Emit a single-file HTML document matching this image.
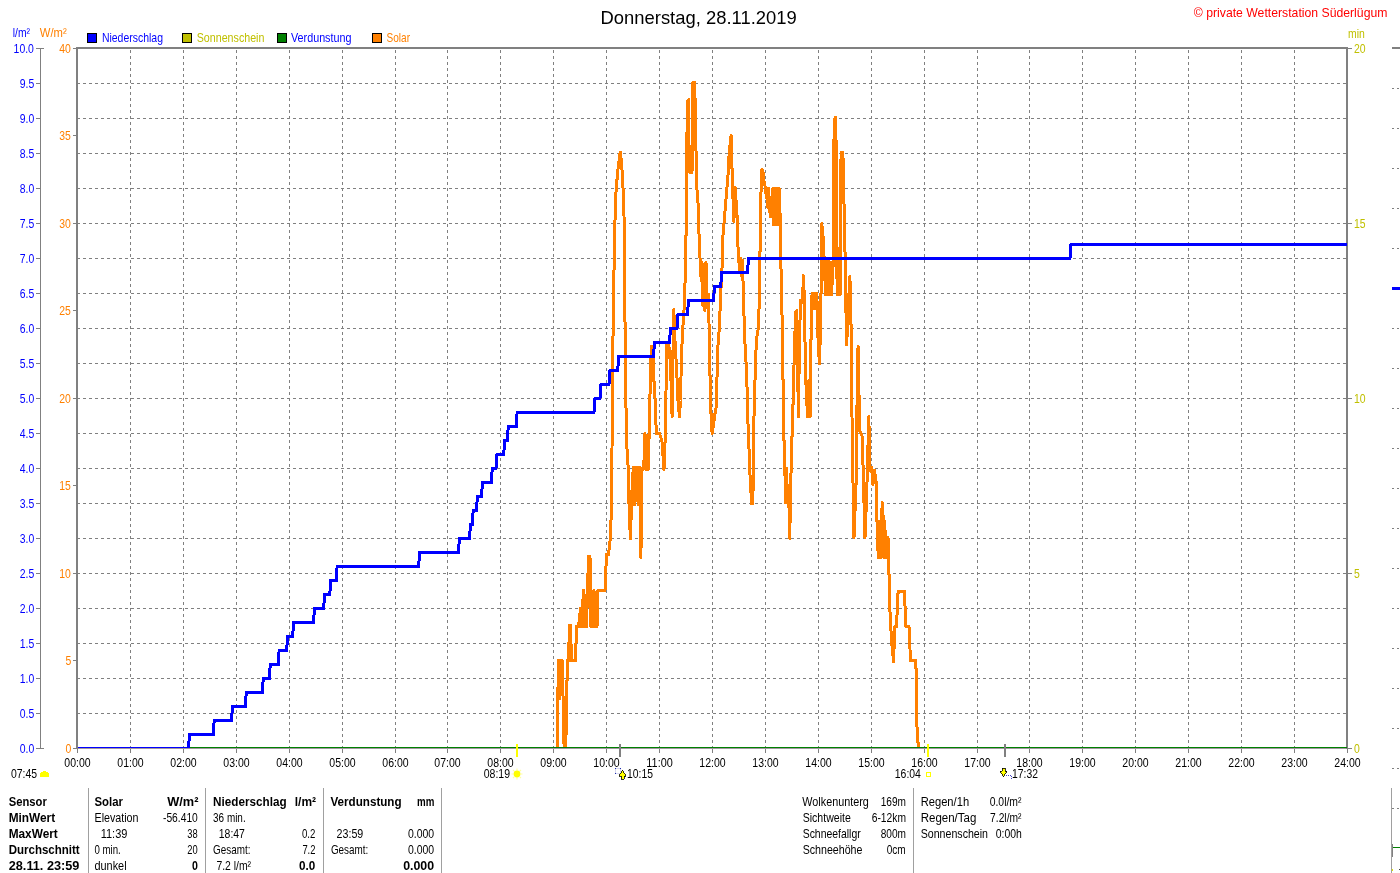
<!DOCTYPE html>
<html><head><meta charset="utf-8"><style>
html,body{margin:0;padding:0;background:#fff;}
svg{display:block;will-change:transform;}
text{font-family:"Liberation Sans",sans-serif;}
</style></head><body>
<svg width="1400" height="873" viewBox="0 0 1400 873" shape-rendering="crispEdges">
<defs><clipPath id="plot"><rect x="77" y="49" width="1270" height="699"/></clipPath></defs>
<rect width="1400" height="873" fill="#fff"/>
<line x1="77" y1="83.5" x2="1346" y2="83.5" stroke="#808080" stroke-width="1" stroke-dasharray="3 3" />
<line x1="77" y1="118.5" x2="1346" y2="118.5" stroke="#808080" stroke-width="1" stroke-dasharray="3 3" />
<line x1="77" y1="153.5" x2="1346" y2="153.5" stroke="#808080" stroke-width="1" stroke-dasharray="3 3" />
<line x1="77" y1="188.5" x2="1346" y2="188.5" stroke="#808080" stroke-width="1" stroke-dasharray="3 3" />
<line x1="77" y1="223.5" x2="1346" y2="223.5" stroke="#808080" stroke-width="1" stroke-dasharray="3 3" />
<line x1="77" y1="258.5" x2="1346" y2="258.5" stroke="#808080" stroke-width="1" stroke-dasharray="3 3" />
<line x1="77" y1="293.5" x2="1346" y2="293.5" stroke="#808080" stroke-width="1" stroke-dasharray="3 3" />
<line x1="77" y1="328.5" x2="1346" y2="328.5" stroke="#808080" stroke-width="1" stroke-dasharray="3 3" />
<line x1="77" y1="363.5" x2="1346" y2="363.5" stroke="#808080" stroke-width="1" stroke-dasharray="3 3" />
<line x1="77" y1="398.5" x2="1346" y2="398.5" stroke="#808080" stroke-width="1" stroke-dasharray="3 3" />
<line x1="77" y1="433.5" x2="1346" y2="433.5" stroke="#808080" stroke-width="1" stroke-dasharray="3 3" />
<line x1="77" y1="468.5" x2="1346" y2="468.5" stroke="#808080" stroke-width="1" stroke-dasharray="3 3" />
<line x1="77" y1="503.5" x2="1346" y2="503.5" stroke="#808080" stroke-width="1" stroke-dasharray="3 3" />
<line x1="77" y1="538.5" x2="1346" y2="538.5" stroke="#808080" stroke-width="1" stroke-dasharray="3 3" />
<line x1="77" y1="573.5" x2="1346" y2="573.5" stroke="#808080" stroke-width="1" stroke-dasharray="3 3" />
<line x1="77" y1="608.5" x2="1346" y2="608.5" stroke="#808080" stroke-width="1" stroke-dasharray="3 3" />
<line x1="77" y1="643.5" x2="1346" y2="643.5" stroke="#808080" stroke-width="1" stroke-dasharray="3 3" />
<line x1="77" y1="678.5" x2="1346" y2="678.5" stroke="#808080" stroke-width="1" stroke-dasharray="3 3" />
<line x1="77" y1="713.5" x2="1346" y2="713.5" stroke="#808080" stroke-width="1" stroke-dasharray="3 3" />
<line x1="130.5" y1="50" x2="130.5" y2="748" stroke="#808080" stroke-width="1" stroke-dasharray="3 3" />
<line x1="183.5" y1="50" x2="183.5" y2="748" stroke="#808080" stroke-width="1" stroke-dasharray="3 3" />
<line x1="236.5" y1="50" x2="236.5" y2="748" stroke="#808080" stroke-width="1" stroke-dasharray="3 3" />
<line x1="289.5" y1="50" x2="289.5" y2="748" stroke="#808080" stroke-width="1" stroke-dasharray="3 3" />
<line x1="342.5" y1="50" x2="342.5" y2="748" stroke="#808080" stroke-width="1" stroke-dasharray="3 3" />
<line x1="395.5" y1="50" x2="395.5" y2="748" stroke="#808080" stroke-width="1" stroke-dasharray="3 3" />
<line x1="447.5" y1="50" x2="447.5" y2="748" stroke="#808080" stroke-width="1" stroke-dasharray="3 3" />
<line x1="500.5" y1="50" x2="500.5" y2="748" stroke="#808080" stroke-width="1" stroke-dasharray="3 3" />
<line x1="553.5" y1="50" x2="553.5" y2="748" stroke="#808080" stroke-width="1" stroke-dasharray="3 3" />
<line x1="606.5" y1="50" x2="606.5" y2="748" stroke="#808080" stroke-width="1" stroke-dasharray="3 3" />
<line x1="659.5" y1="50" x2="659.5" y2="748" stroke="#808080" stroke-width="1" stroke-dasharray="3 3" />
<line x1="712.5" y1="50" x2="712.5" y2="748" stroke="#808080" stroke-width="1" stroke-dasharray="3 3" />
<line x1="765.5" y1="50" x2="765.5" y2="748" stroke="#808080" stroke-width="1" stroke-dasharray="3 3" />
<line x1="818.5" y1="50" x2="818.5" y2="748" stroke="#808080" stroke-width="1" stroke-dasharray="3 3" />
<line x1="871.5" y1="50" x2="871.5" y2="748" stroke="#808080" stroke-width="1" stroke-dasharray="3 3" />
<line x1="924.5" y1="50" x2="924.5" y2="748" stroke="#808080" stroke-width="1" stroke-dasharray="3 3" />
<line x1="977.5" y1="50" x2="977.5" y2="748" stroke="#808080" stroke-width="1" stroke-dasharray="3 3" />
<line x1="1029.5" y1="50" x2="1029.5" y2="748" stroke="#808080" stroke-width="1" stroke-dasharray="3 3" />
<line x1="1082.5" y1="50" x2="1082.5" y2="748" stroke="#808080" stroke-width="1" stroke-dasharray="3 3" />
<line x1="1135.5" y1="50" x2="1135.5" y2="748" stroke="#808080" stroke-width="1" stroke-dasharray="3 3" />
<line x1="1188.5" y1="50" x2="1188.5" y2="748" stroke="#808080" stroke-width="1" stroke-dasharray="3 3" />
<line x1="1241.5" y1="50" x2="1241.5" y2="748" stroke="#808080" stroke-width="1" stroke-dasharray="3 3" />
<line x1="1294.5" y1="50" x2="1294.5" y2="748" stroke="#808080" stroke-width="1" stroke-dasharray="3 3" />
<rect x="76" y="47" width="1272" height="2" fill="#808080"/>
<rect x="76" y="47" width="2" height="702" fill="#808080"/>
<rect x="1346" y="47" width="2" height="702" fill="#808080"/>
<g clip-path="url(#plot)">
<path d="M77.50,748.50 L557.10,748.50 L557.70,705.50 L558.50,660.50 L559.10,660.50 L559.90,698.50 L560.70,660.50 L561.50,690.50 L562.30,660.50 L563.10,700.50 L564.10,748.50 L565.10,748.50 L566.30,731.50 L567.30,660.50 L568.50,660.50 L569.50,625.50 L570.50,625.50 L571.50,660.50 L575.50,660.50 L576.50,626.50 L578.50,626.50 L580.50,608.50 L581.50,626.50 L582.50,608.50 L583.50,590.50 L584.50,626.50 L585.50,595.50 L586.50,626.50 L588.50,556.50 L590.00,556.50 L591.00,626.50 L592.00,595.50 L593.00,626.50 L594.00,590.50 L595.00,626.50 L596.00,595.50 L597.00,626.50 L598.00,590.50 L605.00,590.50 L606.50,554.50 L608.50,554.50 L610.10,540.50 L611.30,513.50 L612.00,450.50 L612.50,361.50 L613.00,337.50 L613.70,286.50 L614.90,223.50 L616.10,189.50 L617.80,171.10 L619.80,154.10 L620.50,152.50 L621.70,165.50 L622.70,179.50 L624.00,215.50 L624.70,290.50 L625.50,370.50 L626.50,442.50 L627.90,460.50 L628.50,485.50 L629.50,521.50 L630.50,538.50 L631.50,503.50 L632.50,477.50 L633.50,467.50 L634.50,504.50 L635.50,467.50 L636.50,500.50 L637.50,467.50 L638.50,504.50 L639.50,467.50 L640.90,557.50 L642.00,470.50 L643.00,467.50 L644.00,460.50 L645.00,433.50 L646.00,469.50 L647.00,435.50 L648.10,469.50 L649.00,440.50 L649.90,400.50 L650.70,360.50 L651.50,346.50 L652.50,350.50 L653.50,357.50 L653.90,379.50 L655.10,399.50 L656.30,433.50 L657.50,433.50 L659.50,433.50 L661.90,440.50 L663.00,455.50 L664.00,469.50 L665.30,435.50 L666.00,391.50 L667.00,344.50 L668.50,345.50 L669.50,348.50 L671.00,380.50 L672.10,416.50 L673.00,350.50 L673.80,309.50 L675.00,340.50 L676.90,375.50 L678.00,400.50 L679.40,416.50 L680.50,400.50 L681.50,354.50 L682.80,328.50 L684.00,310.50 L684.90,290.50 L685.40,260.50 L685.90,250.50 L686.60,162.50 L687.10,126.50 L687.80,100.50 L688.70,99.50 L688.90,140.50 L689.70,172.50 L692.00,172.50 L692.50,91.50 L693.00,82.50 L694.50,82.50 L695.40,110.50 L696.00,150.50 L696.80,187.50 L698.30,206.50 L699.30,245.50 L700.00,257.50 L701.20,280.50 L702.00,262.50 L703.00,305.50 L704.00,270.50 L705.00,310.50 L706.00,262.50 L707.00,300.50 L708.50,294.50 L709.70,362.50 L710.90,411.50 L712.10,433.50 L713.50,425.50 L714.50,416.50 L716.30,406.50 L717.70,348.50 L719.50,326.50 L720.60,294.50 L721.80,275.50 L722.90,236.50 L724.90,212.50 L726.50,192.50 L727.80,178.50 L729.00,156.50 L730.70,136.50 L731.40,135.50 L732.20,178.50 L733.90,221.50 L735.10,187.50 L737.00,214.50 L738.00,246.50 L739.50,270.50 L740.50,258.50 L741.50,275.50 L742.50,260.50 L743.50,300.50 L744.80,340.50 L746.70,373.50 L747.70,416.50 L749.20,453.50 L750.10,477.50 L751.60,503.50 L752.50,503.50 L753.30,484.50 L754.00,416.50 L755.20,373.50 L756.40,339.50 L758.10,329.50 L759.40,300.50 L760.10,245.50 L761.30,175.50 L762.00,169.50 L763.00,172.50 L764.10,181.50 L765.50,188.50 L766.30,197.50 L767.10,188.50 L767.90,207.50 L768.70,188.50 L769.50,207.50 L770.30,216.50 L771.10,205.50 L771.80,216.50 L772.70,188.50 L773.50,224.50 L774.30,188.50 L775.10,224.50 L775.90,188.50 L776.70,224.50 L777.50,188.50 L778.30,224.50 L779.10,188.50 L779.80,205.50 L780.50,232.50 L781.20,282.50 L782.40,330.50 L783.60,426.50 L784.90,470.50 L785.50,502.50 L786.50,468.50 L787.50,500.50 L788.50,485.50 L789.70,538.50 L790.90,477.50 L792.10,433.50 L793.40,392.50 L794.50,344.50 L795.80,311.50 L796.70,310.50 L798.40,416.50 L799.50,340.50 L800.50,300.50 L801.80,302.50 L802.80,295.50 L803.30,275.50 L804.30,295.50 L805.50,373.50 L807.50,416.50 L809.00,380.50 L810.10,416.50 L810.80,360.50 L811.30,311.50 L812.10,293.50 L813.50,293.50 L814.50,308.50 L815.50,293.50 L816.80,293.50 L817.50,320.50 L818.10,340.50 L819.40,363.50 L820.50,330.50 L821.20,280.50 L821.70,223.50 L823.40,240.50 L824.60,270.50 L825.50,294.50 L826.50,260.50 L827.50,294.50 L828.50,258.50 L829.50,294.50 L830.50,262.50 L831.50,294.50 L833.10,265.50 L833.70,188.50 L834.10,127.50 L835.10,117.50 L835.90,117.50 L836.30,200.50 L836.50,250.50 L837.30,294.50 L838.10,248.50 L838.90,294.50 L839.70,248.50 L840.10,294.50 L840.50,200.50 L841.10,152.50 L842.70,152.50 L843.30,162.50 L844.10,209.50 L845.00,251.50 L845.80,300.50 L846.50,344.50 L847.50,330.50 L848.70,300.50 L849.80,276.50 L850.80,300.50 L851.50,380.50 L852.00,416.50 L852.50,467.50 L853.80,506.50 L854.00,537.50 L856.20,480.50 L857.50,360.50 L858.10,346.50 L859.10,400.50 L859.90,431.50 L862.30,436.50 L863.50,484.50 L865.00,537.50 L866.50,500.50 L868.80,416.50 L870.00,470.50 L871.50,467.50 L873.00,484.50 L874.50,470.50 L876.50,484.50 L877.00,521.50 L877.80,548.50 L878.50,557.50 L879.50,521.50 L880.50,557.50 L881.30,520.50 L882.30,502.50 L883.30,520.50 L884.00,557.50 L884.80,521.50 L885.70,557.50 L886.50,537.50 L887.30,557.50 L888.00,537.50 L888.80,556.50 L889.30,598.50 L890.30,617.50 L891.50,640.50 L893.50,661.50 L895.00,626.50 L896.50,626.50 L898.10,591.50 L904.40,591.50 L905.90,626.50 L909.00,626.50 L910.50,660.50 L915.90,660.50 L916.80,723.50 L918.40,748.50 L1346.50,748.50" fill="none" stroke="#ff8000" stroke-width="3" stroke-linejoin="round"/>
<line x1="78" y1="748.5" x2="1347" y2="748.5" stroke="#008000" stroke-width="3"/>
<path d="M77.50,748.50 L188.50,748.50 L189.50,734.50 L213.20,734.50 L214.20,720.50 L231.50,720.50 L232.50,706.50 L245.30,706.50 L246.30,692.50 L262.30,692.50 L263.30,678.50 L269.30,678.50 L270.30,664.50 L278.10,664.50 L279.10,650.50 L286.60,650.50 L287.60,636.50 L292.60,636.50 L293.60,622.50 L313.50,622.50 L314.50,608.50 L323.60,608.50 L324.60,594.50 L329.80,594.50 L330.80,580.50 L336.10,580.50 L337.10,566.50 L418.60,566.50 L419.60,552.50 L458.40,552.50 L459.40,538.50 L469.50,538.50 L470.50,524.50 L472.20,524.50 L473.20,510.50 L476.40,510.50 L477.40,496.50 L481.50,496.50 L482.50,482.50 L491.30,482.50 L492.30,468.50 L496.00,468.50 L497.00,454.50 L503.70,454.50 L504.70,440.50 L507.30,440.50 L508.30,426.50 L516.10,426.50 L517.10,412.50 L594.00,412.50 L595.00,398.50 L600.00,398.50 L601.00,384.50 L609.00,384.50 L610.00,370.50 L617.70,370.50 L618.70,356.50 L653.50,356.50 L654.50,342.50 L669.50,342.50 L670.50,328.50 L677.00,328.50 L678.00,314.50 L687.50,314.50 L688.50,300.50 L713.50,300.50 L714.50,286.50 L720.70,286.50 L721.70,272.50 L747.50,272.50 L748.50,258.50 L1070.00,258.50 L1071.00,244.50 L1347.50,244.50" fill="none" stroke="#0000ff" stroke-width="3" stroke-linejoin="miter"/>
</g>
<line x1="78" y1="748.5" x2="1346" y2="748.5" stroke="#a096a0" stroke-width="1" />
<rect x="1346" y="748" width="2" height="1" fill="#808080"/>
<line x1="40.5" y1="48" x2="40.5" y2="749" stroke="#808080" stroke-width="1" />
<line x1="36" y1="48.5" x2="44" y2="48.5" stroke="#808080" stroke-width="1" />
<text transform="translate(13.62,53) scale(0.8700,1)" font-size="12" font-weight="normal" fill="#0000ff">10.0</text>
<line x1="36" y1="83.5" x2="40" y2="83.5" stroke="#808080" stroke-width="1" />
<text transform="translate(19.71,88) scale(0.8700,1)" font-size="12" font-weight="normal" fill="#0000ff">9.5</text>
<line x1="36" y1="118.5" x2="40" y2="118.5" stroke="#808080" stroke-width="1" />
<text transform="translate(19.71,123) scale(0.8700,1)" font-size="12" font-weight="normal" fill="#0000ff">9.0</text>
<line x1="36" y1="153.5" x2="40" y2="153.5" stroke="#808080" stroke-width="1" />
<text transform="translate(19.71,158) scale(0.8700,1)" font-size="12" font-weight="normal" fill="#0000ff">8.5</text>
<line x1="36" y1="188.5" x2="40" y2="188.5" stroke="#808080" stroke-width="1" />
<text transform="translate(19.71,193) scale(0.8700,1)" font-size="12" font-weight="normal" fill="#0000ff">8.0</text>
<line x1="36" y1="223.5" x2="40" y2="223.5" stroke="#808080" stroke-width="1" />
<text transform="translate(19.71,228) scale(0.8700,1)" font-size="12" font-weight="normal" fill="#0000ff">7.5</text>
<line x1="36" y1="258.5" x2="40" y2="258.5" stroke="#808080" stroke-width="1" />
<text transform="translate(19.71,263) scale(0.8700,1)" font-size="12" font-weight="normal" fill="#0000ff">7.0</text>
<line x1="36" y1="293.5" x2="40" y2="293.5" stroke="#808080" stroke-width="1" />
<text transform="translate(19.71,298) scale(0.8700,1)" font-size="12" font-weight="normal" fill="#0000ff">6.5</text>
<line x1="36" y1="328.5" x2="40" y2="328.5" stroke="#808080" stroke-width="1" />
<text transform="translate(19.71,333) scale(0.8700,1)" font-size="12" font-weight="normal" fill="#0000ff">6.0</text>
<line x1="36" y1="363.5" x2="40" y2="363.5" stroke="#808080" stroke-width="1" />
<text transform="translate(19.71,368) scale(0.8700,1)" font-size="12" font-weight="normal" fill="#0000ff">5.5</text>
<line x1="36" y1="398.5" x2="40" y2="398.5" stroke="#808080" stroke-width="1" />
<text transform="translate(19.71,403) scale(0.8700,1)" font-size="12" font-weight="normal" fill="#0000ff">5.0</text>
<line x1="36" y1="433.5" x2="40" y2="433.5" stroke="#808080" stroke-width="1" />
<text transform="translate(19.71,438) scale(0.8700,1)" font-size="12" font-weight="normal" fill="#0000ff">4.5</text>
<line x1="36" y1="468.5" x2="40" y2="468.5" stroke="#808080" stroke-width="1" />
<text transform="translate(19.71,473) scale(0.8700,1)" font-size="12" font-weight="normal" fill="#0000ff">4.0</text>
<line x1="36" y1="503.5" x2="40" y2="503.5" stroke="#808080" stroke-width="1" />
<text transform="translate(19.71,508) scale(0.8700,1)" font-size="12" font-weight="normal" fill="#0000ff">3.5</text>
<line x1="36" y1="538.5" x2="40" y2="538.5" stroke="#808080" stroke-width="1" />
<text transform="translate(19.71,543) scale(0.8700,1)" font-size="12" font-weight="normal" fill="#0000ff">3.0</text>
<line x1="36" y1="573.5" x2="40" y2="573.5" stroke="#808080" stroke-width="1" />
<text transform="translate(19.71,578) scale(0.8700,1)" font-size="12" font-weight="normal" fill="#0000ff">2.5</text>
<line x1="36" y1="608.5" x2="40" y2="608.5" stroke="#808080" stroke-width="1" />
<text transform="translate(19.71,613) scale(0.8700,1)" font-size="12" font-weight="normal" fill="#0000ff">2.0</text>
<line x1="36" y1="643.5" x2="40" y2="643.5" stroke="#808080" stroke-width="1" />
<text transform="translate(19.71,648) scale(0.8700,1)" font-size="12" font-weight="normal" fill="#0000ff">1.5</text>
<line x1="36" y1="678.5" x2="40" y2="678.5" stroke="#808080" stroke-width="1" />
<text transform="translate(19.71,683) scale(0.8700,1)" font-size="12" font-weight="normal" fill="#0000ff">1.0</text>
<line x1="36" y1="713.5" x2="40" y2="713.5" stroke="#808080" stroke-width="1" />
<text transform="translate(19.71,718) scale(0.8700,1)" font-size="12" font-weight="normal" fill="#0000ff">0.5</text>
<line x1="36" y1="748.5" x2="44" y2="748.5" stroke="#808080" stroke-width="1" />
<text transform="translate(19.71,753) scale(0.8700,1)" font-size="12" font-weight="normal" fill="#0000ff">0.0</text>
<line x1="73" y1="48.5" x2="76" y2="48.5" stroke="#808080" stroke-width="1" />
<text transform="translate(59.32,53) scale(0.8700,1)" font-size="12" font-weight="normal" fill="#ff8000">40</text>
<line x1="73" y1="135.5" x2="76" y2="135.5" stroke="#808080" stroke-width="1" />
<text transform="translate(59.32,140) scale(0.8700,1)" font-size="12" font-weight="normal" fill="#ff8000">35</text>
<line x1="73" y1="223.5" x2="76" y2="223.5" stroke="#808080" stroke-width="1" />
<text transform="translate(59.32,228) scale(0.8700,1)" font-size="12" font-weight="normal" fill="#ff8000">30</text>
<line x1="73" y1="310.5" x2="76" y2="310.5" stroke="#808080" stroke-width="1" />
<text transform="translate(59.32,315) scale(0.8700,1)" font-size="12" font-weight="normal" fill="#ff8000">25</text>
<line x1="73" y1="398.5" x2="76" y2="398.5" stroke="#808080" stroke-width="1" />
<text transform="translate(59.32,403) scale(0.8700,1)" font-size="12" font-weight="normal" fill="#ff8000">20</text>
<line x1="73" y1="485.5" x2="76" y2="485.5" stroke="#808080" stroke-width="1" />
<text transform="translate(59.32,490) scale(0.8700,1)" font-size="12" font-weight="normal" fill="#ff8000">15</text>
<line x1="73" y1="573.5" x2="76" y2="573.5" stroke="#808080" stroke-width="1" />
<text transform="translate(59.32,578) scale(0.8700,1)" font-size="12" font-weight="normal" fill="#ff8000">10</text>
<line x1="73" y1="660.5" x2="76" y2="660.5" stroke="#808080" stroke-width="1" />
<text transform="translate(65.41,665) scale(0.8700,1)" font-size="12" font-weight="normal" fill="#ff8000">5</text>
<line x1="73" y1="748.5" x2="76" y2="748.5" stroke="#808080" stroke-width="1" />
<text transform="translate(65.41,753) scale(0.8700,1)" font-size="12" font-weight="normal" fill="#ff8000">0</text>
<line x1="1348" y1="48.5" x2="1352" y2="48.5" stroke="#808080" stroke-width="1" />
<text transform="translate(1354.00,53) scale(0.8700,1)" font-size="12" font-weight="normal" fill="#c0c000">20</text>
<line x1="1348" y1="223.5" x2="1352" y2="223.5" stroke="#808080" stroke-width="1" />
<text transform="translate(1354.00,228) scale(0.8700,1)" font-size="12" font-weight="normal" fill="#c0c000">15</text>
<line x1="1348" y1="398.5" x2="1352" y2="398.5" stroke="#808080" stroke-width="1" />
<text transform="translate(1354.00,403) scale(0.8700,1)" font-size="12" font-weight="normal" fill="#c0c000">10</text>
<line x1="1348" y1="573.5" x2="1352" y2="573.5" stroke="#808080" stroke-width="1" />
<text transform="translate(1354.00,578) scale(0.8700,1)" font-size="12" font-weight="normal" fill="#c0c000">5</text>
<line x1="1348" y1="748.5" x2="1352" y2="748.5" stroke="#808080" stroke-width="1" />
<text transform="translate(1354.00,753) scale(0.8700,1)" font-size="12" font-weight="normal" fill="#c0c000">0</text>
<text transform="translate(1348.00,38) scale(0.8700,1)" font-size="12" font-weight="normal" fill="#c0c000">min</text>
<text transform="translate(12.75,37) scale(0.8625,1)" font-size="12" font-weight="normal" fill="#0000ff">l/m²</text>
<text transform="translate(39.75,37) scale(0.9397,1)" font-size="12" font-weight="normal" fill="#ff8000">W/m²</text>
<line x1="77.5" y1="749" x2="77.5" y2="753" stroke="#808080" stroke-width="1" />
<text transform="translate(64.35,767) scale(0.8767,1)" font-size="12" font-weight="normal" fill="#000">00:00</text>
<line x1="130.5" y1="749" x2="130.5" y2="753" stroke="#808080" stroke-width="1" />
<text transform="translate(117.35,767) scale(0.8767,1)" font-size="12" font-weight="normal" fill="#000">01:00</text>
<line x1="183.5" y1="749" x2="183.5" y2="753" stroke="#808080" stroke-width="1" />
<text transform="translate(170.35,767) scale(0.8767,1)" font-size="12" font-weight="normal" fill="#000">02:00</text>
<line x1="236.5" y1="749" x2="236.5" y2="753" stroke="#808080" stroke-width="1" />
<text transform="translate(223.35,767) scale(0.8767,1)" font-size="12" font-weight="normal" fill="#000">03:00</text>
<line x1="289.5" y1="749" x2="289.5" y2="753" stroke="#808080" stroke-width="1" />
<text transform="translate(276.35,767) scale(0.8767,1)" font-size="12" font-weight="normal" fill="#000">04:00</text>
<line x1="342.5" y1="749" x2="342.5" y2="753" stroke="#808080" stroke-width="1" />
<text transform="translate(329.35,767) scale(0.8767,1)" font-size="12" font-weight="normal" fill="#000">05:00</text>
<line x1="395.5" y1="749" x2="395.5" y2="753" stroke="#808080" stroke-width="1" />
<text transform="translate(382.35,767) scale(0.8767,1)" font-size="12" font-weight="normal" fill="#000">06:00</text>
<line x1="447.5" y1="749" x2="447.5" y2="753" stroke="#808080" stroke-width="1" />
<text transform="translate(434.35,767) scale(0.8767,1)" font-size="12" font-weight="normal" fill="#000">07:00</text>
<line x1="500.5" y1="749" x2="500.5" y2="753" stroke="#808080" stroke-width="1" />
<text transform="translate(487.35,767) scale(0.8767,1)" font-size="12" font-weight="normal" fill="#000">08:00</text>
<line x1="553.5" y1="749" x2="553.5" y2="753" stroke="#808080" stroke-width="1" />
<text transform="translate(540.35,767) scale(0.8767,1)" font-size="12" font-weight="normal" fill="#000">09:00</text>
<line x1="606.5" y1="749" x2="606.5" y2="753" stroke="#808080" stroke-width="1" />
<text transform="translate(593.35,767) scale(0.8767,1)" font-size="12" font-weight="normal" fill="#000">10:00</text>
<line x1="659.5" y1="749" x2="659.5" y2="753" stroke="#808080" stroke-width="1" />
<text transform="translate(646.35,767) scale(0.9069,1)" font-size="12" font-weight="normal" fill="#000">11:00</text>
<line x1="712.5" y1="749" x2="712.5" y2="753" stroke="#808080" stroke-width="1" />
<text transform="translate(699.35,767) scale(0.8767,1)" font-size="12" font-weight="normal" fill="#000">12:00</text>
<line x1="765.5" y1="749" x2="765.5" y2="753" stroke="#808080" stroke-width="1" />
<text transform="translate(752.35,767) scale(0.8767,1)" font-size="12" font-weight="normal" fill="#000">13:00</text>
<line x1="818.5" y1="749" x2="818.5" y2="753" stroke="#808080" stroke-width="1" />
<text transform="translate(805.35,767) scale(0.8767,1)" font-size="12" font-weight="normal" fill="#000">14:00</text>
<line x1="871.5" y1="749" x2="871.5" y2="753" stroke="#808080" stroke-width="1" />
<text transform="translate(858.35,767) scale(0.8767,1)" font-size="12" font-weight="normal" fill="#000">15:00</text>
<line x1="924.5" y1="749" x2="924.5" y2="753" stroke="#808080" stroke-width="1" />
<text transform="translate(911.35,767) scale(0.8767,1)" font-size="12" font-weight="normal" fill="#000">16:00</text>
<line x1="977.5" y1="749" x2="977.5" y2="753" stroke="#808080" stroke-width="1" />
<text transform="translate(964.35,767) scale(0.8767,1)" font-size="12" font-weight="normal" fill="#000">17:00</text>
<line x1="1029.5" y1="749" x2="1029.5" y2="753" stroke="#808080" stroke-width="1" />
<text transform="translate(1016.35,767) scale(0.8767,1)" font-size="12" font-weight="normal" fill="#000">18:00</text>
<line x1="1082.5" y1="749" x2="1082.5" y2="753" stroke="#808080" stroke-width="1" />
<text transform="translate(1069.35,767) scale(0.8767,1)" font-size="12" font-weight="normal" fill="#000">19:00</text>
<line x1="1135.5" y1="749" x2="1135.5" y2="753" stroke="#808080" stroke-width="1" />
<text transform="translate(1122.35,767) scale(0.8767,1)" font-size="12" font-weight="normal" fill="#000">20:00</text>
<line x1="1188.5" y1="749" x2="1188.5" y2="753" stroke="#808080" stroke-width="1" />
<text transform="translate(1175.35,767) scale(0.8767,1)" font-size="12" font-weight="normal" fill="#000">21:00</text>
<line x1="1241.5" y1="749" x2="1241.5" y2="753" stroke="#808080" stroke-width="1" />
<text transform="translate(1228.35,767) scale(0.8767,1)" font-size="12" font-weight="normal" fill="#000">22:00</text>
<line x1="1294.5" y1="749" x2="1294.5" y2="753" stroke="#808080" stroke-width="1" />
<text transform="translate(1281.35,767) scale(0.8767,1)" font-size="12" font-weight="normal" fill="#000">23:00</text>
<line x1="1347.5" y1="749" x2="1347.5" y2="753" stroke="#808080" stroke-width="1" />
<text transform="translate(1334.35,767) scale(0.8767,1)" font-size="12" font-weight="normal" fill="#000">24:00</text>
<text transform="translate(600.50,24) scale(1.0234,1)" font-size="18" font-weight="normal" fill="#000">Donnerstag, 28.11.2019</text>
<text transform="translate(1193.80,17) scale(1.0195,1)" font-size="12" font-weight="normal" fill="#ff0000">© private Wetterstation Süderlügum</text>
<rect x="87.5" y="33.5" width="9" height="9" fill="#0000ff" stroke="#000" stroke-width="1"/>
<text transform="translate(101.90,42) scale(0.8729,1)" font-size="12" font-weight="normal" fill="#0000ff">Niederschlag</text>
<rect x="182.5" y="33.5" width="9" height="9" fill="#c0c000" stroke="#000" stroke-width="1"/>
<text transform="translate(196.70,42) scale(0.8908,1)" font-size="12" font-weight="normal" fill="#c0c000">Sonnenschein</text>
<rect x="277.5" y="33.5" width="9" height="9" fill="#008000" stroke="#000" stroke-width="1"/>
<text transform="translate(291.00,42) scale(0.8985,1)" font-size="12" font-weight="normal" fill="#0000ff">Verdunstung</text>
<rect x="372.5" y="33.5" width="9" height="9" fill="#ff8000" stroke="#000" stroke-width="1"/>
<text transform="translate(386.50,42) scale(0.8393,1)" font-size="12" font-weight="normal" fill="#ff8000">Solar</text>
<line x1="517" y1="744" x2="517" y2="757" stroke="#ffff00" stroke-width="2" />
<line x1="620" y1="744" x2="620" y2="757" stroke="#808080" stroke-width="2" />
<line x1="928" y1="744" x2="928" y2="757" stroke="#ffff00" stroke-width="2" />
<line x1="1005" y1="744" x2="1005" y2="757" stroke="#808080" stroke-width="2" />
<text transform="translate(10.90,778) scale(0.8700,1)" font-size="12" font-weight="normal" fill="#000">07:45</text>
<text transform="translate(483.70,778) scale(0.8767,1)" font-size="12" font-weight="normal" fill="#000">08:19</text>
<text transform="translate(627.10,778) scale(0.8633,1)" font-size="12" font-weight="normal" fill="#000">10:15</text>
<text transform="translate(894.80,778) scale(0.8700,1)" font-size="12" font-weight="normal" fill="#000">16:04</text>
<text transform="translate(1012.10,778) scale(0.8633,1)" font-size="12" font-weight="normal" fill="#000">17:32</text>
<path d="M43,771 h3 v1 h2 v1 h1 v4 h-9 v-4 h1 v-1 h2 z" fill="#ffff00"/>
<g shape-rendering="auto"><path d="M517,768.5 v2 M517,777.5 v2 M511.5,774 h2 M520.5,774 h2 M513,770 l1.2,1.2 M521,770 l-1.2,1.2 M513,778 l1.2,-1.2 M521,778 l-1.2,-1.2" stroke="#ffffa0" stroke-width="1.2" fill="none"/><circle cx="517" cy="774" r="3.4" fill="#ffff00"/></g>
<path d="M615,768h1v1h-1zM620,768h1v1h-1zM615,773h1v1h-1zM620,773h1v1h-1z" fill="#2030b0"/><path d="M616,768h4v1h-4zM616,773h4v1h-4zM615,769h1v4h-1zM620,769h1v4h-1z" fill="#d8d8f0"/>
<path d="M622.5,770 L626,776 L624,776 L624,779 L621,779 L621,776 L619,776 Z" fill="#ffff00" stroke="#000" stroke-width="0.8"/>
<rect x="926.5" y="772.5" width="4" height="4" fill="none" stroke="#ffff00" stroke-width="1"/>
<path d="M1003.5,777 L1007,771 L1005,771 L1005,768 L1002,768 L1002,771 L1000,771 Z" fill="#ffff00" stroke="#000" stroke-width="0.8"/>
<path d="M1005.5,775.5 h6 M1011.5,775.5 v3" fill="none" stroke="#4040c0" stroke-width="1" stroke-dasharray="1 1"/>
<line x1="88.5" y1="788" x2="88.5" y2="873" stroke="#a0a0a0" stroke-width="1" />
<line x1="205.5" y1="788" x2="205.5" y2="873" stroke="#a0a0a0" stroke-width="1" />
<line x1="323.5" y1="788" x2="323.5" y2="873" stroke="#a0a0a0" stroke-width="1" />
<line x1="441.5" y1="788" x2="441.5" y2="873" stroke="#a0a0a0" stroke-width="1" />
<line x1="913.5" y1="788" x2="913.5" y2="873" stroke="#a0a0a0" stroke-width="1" />
<text transform="translate(8.70,806) scale(0.9366,1)" font-size="12" font-weight="bold" fill="#000">Sensor</text>
<text transform="translate(8.70,822) scale(0.9872,1)" font-size="12" font-weight="bold" fill="#000">MinWert</text>
<text transform="translate(8.70,838) scale(0.9860,1)" font-size="12" font-weight="bold" fill="#000">MaxWert</text>
<text transform="translate(8.70,854) scale(0.9608,1)" font-size="12" font-weight="bold" fill="#000">Durchschnitt</text>
<text transform="translate(8.70,870) scale(1.0612,1)" font-size="12" font-weight="bold" fill="#000">28.11. 23:59</text>
<text transform="translate(94.50,806) scale(0.9500,1)" font-size="12" font-weight="bold" fill="#000">Solar</text>
<text transform="translate(167.20,806) scale(1.0655,1)" font-size="12" font-weight="bold" fill="#000">W/m²</text>
<text transform="translate(94.50,822) scale(0.8918,1)" font-size="12" font-weight="normal" fill="#000">Elevation</text>
<text transform="translate(163.00,822) scale(0.8561,1)" font-size="12" font-weight="normal" fill="#000">-56.410</text>
<text transform="translate(100.70,838) scale(0.9172,1)" font-size="12" font-weight="normal" fill="#000">11:39</text>
<text transform="translate(187.20,838) scale(0.7786,1)" font-size="12" font-weight="normal" fill="#000">38</text>
<text transform="translate(94.50,854) scale(0.8061,1)" font-size="12" font-weight="normal" fill="#000">0 min.</text>
<text transform="translate(187.20,854) scale(0.7786,1)" font-size="12" font-weight="normal" fill="#000">20</text>
<text transform="translate(94.50,870) scale(0.9086,1)" font-size="12" font-weight="normal" fill="#000">dunkel</text>
<text transform="translate(191.90,870) scale(0.8857,1)" font-size="12" font-weight="bold" fill="#000">0</text>
<text transform="translate(213.10,806) scale(0.9760,1)" font-size="12" font-weight="bold" fill="#000">Niederschlag</text>
<text transform="translate(294.80,806) scale(0.9952,1)" font-size="12" font-weight="bold" fill="#000">l/m²</text>
<text transform="translate(213.10,822) scale(0.8282,1)" font-size="12" font-weight="normal" fill="#000">36 min.</text>
<text transform="translate(218.80,838) scale(0.8700,1)" font-size="12" font-weight="normal" fill="#000">18:47</text>
<text transform="translate(302.00,838) scale(0.8059,1)" font-size="12" font-weight="normal" fill="#000">0.2</text>
<text transform="translate(213.10,854) scale(0.8244,1)" font-size="12" font-weight="normal" fill="#000">Gesamt:</text>
<text transform="translate(302.40,854) scale(0.7824,1)" font-size="12" font-weight="normal" fill="#000">7.2</text>
<text transform="translate(216.40,870) scale(0.8675,1)" font-size="12" font-weight="normal" fill="#000">7.2 l/m²</text>
<text transform="translate(299.10,870) scale(0.9765,1)" font-size="12" font-weight="bold" fill="#000">0.0</text>
<text transform="translate(330.50,806) scale(0.9699,1)" font-size="12" font-weight="bold" fill="#000">Verdunstung</text>
<text transform="translate(417.00,806) scale(0.8143,1)" font-size="12" font-weight="bold" fill="#000">mm</text>
<text transform="translate(336.60,838) scale(0.8900,1)" font-size="12" font-weight="normal" fill="#000">23:59</text>
<text transform="translate(407.90,838) scale(0.8733,1)" font-size="12" font-weight="normal" fill="#000">0.000</text>
<text transform="translate(330.90,854) scale(0.8244,1)" font-size="12" font-weight="normal" fill="#000">Gesamt:</text>
<text transform="translate(407.90,854) scale(0.8733,1)" font-size="12" font-weight="normal" fill="#000">0.000</text>
<text transform="translate(403.20,870) scale(1.0300,1)" font-size="12" font-weight="bold" fill="#000">0.000</text>
<text transform="translate(802.30,806) scale(0.9027,1)" font-size="12" font-weight="normal" fill="#000">Wolkenunterg</text>
<text transform="translate(802.70,822) scale(0.8800,1)" font-size="12" font-weight="normal" fill="#000">Sichtweite</text>
<text transform="translate(802.70,838) scale(0.8701,1)" font-size="12" font-weight="normal" fill="#000">Schneefallgr</text>
<text transform="translate(802.70,854) scale(0.8882,1)" font-size="12" font-weight="normal" fill="#000">Schneehöhe</text>
<text transform="translate(880.70,806) scale(0.8433,1)" font-size="12" font-weight="normal" fill="#000">169m</text>
<text transform="translate(871.70,822) scale(0.8575,1)" font-size="12" font-weight="normal" fill="#000">6-12km</text>
<text transform="translate(880.70,838) scale(0.8433,1)" font-size="12" font-weight="normal" fill="#000">800m</text>
<text transform="translate(886.70,854) scale(0.8391,1)" font-size="12" font-weight="normal" fill="#000">0cm</text>
<text transform="translate(920.70,806) scale(0.9308,1)" font-size="12" font-weight="normal" fill="#000">Regen/1h</text>
<text transform="translate(920.70,822) scale(0.9603,1)" font-size="12" font-weight="normal" fill="#000">Regen/Tag</text>
<text transform="translate(920.70,838) scale(0.8855,1)" font-size="12" font-weight="normal" fill="#000">Sonnenschein</text>
<text transform="translate(989.70,806) scale(0.8676,1)" font-size="12" font-weight="normal" fill="#000">0.0l/m²</text>
<text transform="translate(990.10,822) scale(0.8568,1)" font-size="12" font-weight="normal" fill="#000">7.2l/m²</text>
<text transform="translate(995.70,838) scale(0.8700,1)" font-size="12" font-weight="normal" fill="#000">0:00h</text>
<rect x="1392" y="47" width="8" height="2" fill="#808080"/>
<line x1="1392" y1="88.5" x2="1400" y2="88.5" stroke="#808080" stroke-width="1" stroke-dasharray="2 3" />
<line x1="1392" y1="128.5" x2="1400" y2="128.5" stroke="#808080" stroke-width="1" stroke-dasharray="2 3" />
<line x1="1392" y1="168.5" x2="1400" y2="168.5" stroke="#808080" stroke-width="1" stroke-dasharray="2 3" />
<line x1="1392" y1="208.5" x2="1400" y2="208.5" stroke="#808080" stroke-width="1" stroke-dasharray="2 3" />
<line x1="1392" y1="248.5" x2="1400" y2="248.5" stroke="#808080" stroke-width="1" stroke-dasharray="2 3" />
<line x1="1392" y1="328.5" x2="1400" y2="328.5" stroke="#808080" stroke-width="1" stroke-dasharray="2 3" />
<line x1="1392" y1="368.5" x2="1400" y2="368.5" stroke="#808080" stroke-width="1" stroke-dasharray="2 3" />
<line x1="1392" y1="408.5" x2="1400" y2="408.5" stroke="#808080" stroke-width="1" stroke-dasharray="2 3" />
<line x1="1392" y1="448.5" x2="1400" y2="448.5" stroke="#808080" stroke-width="1" stroke-dasharray="2 3" />
<line x1="1392" y1="488.5" x2="1400" y2="488.5" stroke="#808080" stroke-width="1" stroke-dasharray="2 3" />
<line x1="1392" y1="528.5" x2="1400" y2="528.5" stroke="#808080" stroke-width="1" stroke-dasharray="2 3" />
<line x1="1392" y1="568.5" x2="1400" y2="568.5" stroke="#808080" stroke-width="1" stroke-dasharray="2 3" />
<line x1="1392" y1="608.5" x2="1400" y2="608.5" stroke="#808080" stroke-width="1" stroke-dasharray="2 3" />
<line x1="1392" y1="648.5" x2="1400" y2="648.5" stroke="#808080" stroke-width="1" stroke-dasharray="2 3" />
<line x1="1392" y1="688.5" x2="1400" y2="688.5" stroke="#808080" stroke-width="1" stroke-dasharray="2 3" />
<line x1="1392" y1="728.5" x2="1400" y2="728.5" stroke="#808080" stroke-width="1" stroke-dasharray="2 3" />
<line x1="1392" y1="768.5" x2="1400" y2="768.5" stroke="#808080" stroke-width="1" stroke-dasharray="2 3" />
<line x1="1392" y1="808.5" x2="1400" y2="808.5" stroke="#808080" stroke-width="1" stroke-dasharray="2 3" />
<rect x="1392" y="287" width="8" height="3" fill="#0000ff"/>
<line x1="1391.5" y1="788" x2="1391.5" y2="873" stroke="#a0a0a0" stroke-width="1" />
<rect x="1392" y="847" width="8" height="1" fill="#008000"/>
<rect x="1392" y="844" width="1" height="13" fill="#808080"/>
<rect x="1392" y="869" width="1" height="2" fill="#e0e000"/>
<rect x="1399" y="869" width="1" height="1" fill="#404040"/>
</svg>
</body></html>
